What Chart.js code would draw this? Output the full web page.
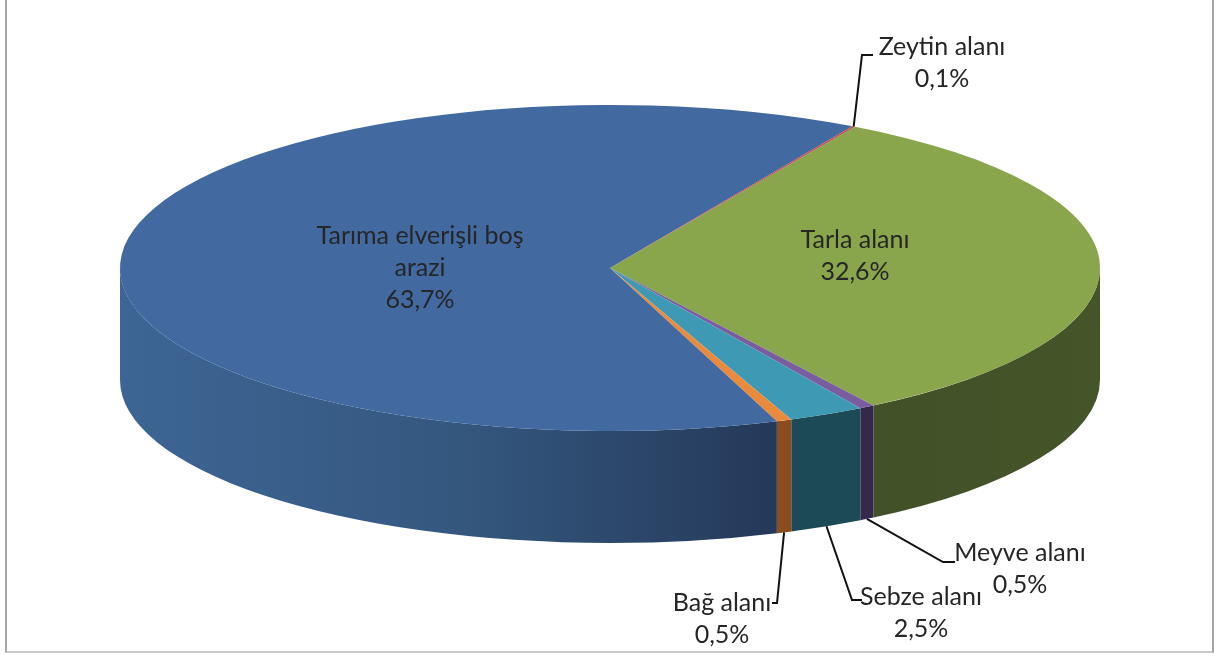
<!DOCTYPE html>
<html>
<head>
<meta charset="utf-8">
<script src="https://cdn.jsdelivr.net/npm/chart.js@4"></script>
<style>
  body { margin: 0; background: #fff; }
  #wrap { position: relative; width: 1215px; height: 656px; }
  #frame { position: absolute; left: 5px; top: 0; width: 1205px; height: 651px;
           border-left: 2px solid #a6a6a6; border-right: 2px solid #a6a6a6; border-bottom: 2px solid #c8c8c8; }
  canvas { position: absolute; left: 0; top: 0; }
</style>
</head>
<body>
<div id="wrap">
  <div id="frame"></div>
  <canvas id="pie" width="1215" height="656"></canvas>
</div>
<script>
const categories = ["Tarla alanı", "Meyve alanı", "Sebze alanı", "Bağ alanı", "Tarıma elverişli boş arazi", "Zeytin alanı"];
const shares = [32.6, 0.5, 2.5, 0.5, 63.7, 0.1];
const topColors = ["#8aa64c", "#7a5d9e", "#3e9ab4", "#ea8a3c", "#4269a0", "#c0504d"];
const sideColors = [["#36441d", "#45552a"], ["#35284b", "#35284b"], ["#1b4753", "#1d4b57"],
                    ["#8a4c1d", "#8a4c1d"], ["#3d6595", "#243858"], ["#6e2b29", "#6e2b29"]];

// ellipse geometry of the tilted pie
const CX = 610, CY = 268, RX = 490, RY = 163, DEPTH = 112;

// label layout: centre x, first line y, lines
const labelLayout = [
  { x: 855, y: 240, lines: ["Tarla alanı"] },
  { x: 1020, y: 553, lines: ["Meyve alanı"], rim: "bottom", elbow: [[943, 562], [955, 562]] },
  { x: 921, y: 597, lines: ["Sebze alanı"], rim: "bottom", elbow: [[852, 600], [862, 600]] },
  { x: 722, y: 603, lines: ["Bağ alanı"], rim: "bottom", elbow: [[777, 603], [772, 603]] },
  { x: 420, y: 236, lines: ["Tarıma elverişli boş", "arazi"] },
  { x: 942, y: 47, lines: ["Zeytin alanı"], rim: "top", elbow: [[862, 55], [873, 55]] }
];

const fmt = v => v.toFixed(1).replace(".", ",") + "%";

function ellipseAt(a, dy) {
  return [CX + RX * Math.cos(a), CY + dy + RY * Math.sin(a)];
}

const tiltPlugin = {
  id: "tilt",
  beforeDatasetsDraw(chart) {
    const ctx = chart.ctx;
    const arcs = chart.getDatasetMeta(0).data;
    // side walls, only the front half (0..PI) is visible
    arcs.forEach((arc, i) => {
      const TWO = Math.PI * 2;
      let s = arc.startAngle, e = arc.endAngle;
      for (let k = -1; k <= 1; k++) {
        const a1 = Math.max(s, k * TWO), a2 = Math.min(e, k * TWO + Math.PI);
        if (a2 <= a1) continue;
        const g = ctx.createLinearGradient(CX - RX, 0, CX + RX, 0);
        if (i === 4) {
          g.addColorStop(0, sideColors[i][0]);
          g.addColorStop(0.35, "#34577e");
          g.addColorStop(0.68, sideColors[i][1]);
          g.addColorStop(1, sideColors[i][1]);
        } else {
          g.addColorStop(0, sideColors[i][0]);
          g.addColorStop(1, sideColors[i][1]);
        }
        ctx.save();
        ctx.beginPath();
        ctx.ellipse(CX, CY, RX, RY, 0, a1, a2, false);
        ctx.ellipse(CX, CY + DEPTH, RX, RY, 0, a2, a1, true);
        ctx.closePath();
        ctx.fillStyle = g;
        ctx.fill();
        ctx.restore();
      }
    });
    const a0 = arcs[0];
    ctx.save();
    ctx.translate(CX, CY);
    ctx.scale(RX / a0.outerRadius, RY / a0.outerRadius);
    ctx.translate(-a0.x, -a0.y);
  },
  afterDatasetsDraw(chart) {
    const ctx = chart.ctx;
    ctx.restore();
    const arcs = chart.getDatasetMeta(0).data;
    ctx.save();
    ctx.fillStyle = "#262626";
    ctx.strokeStyle = "#111";
    ctx.lineWidth = 2;
    ctx.font = "25px Lato, 'Liberation Sans', sans-serif";
    ctx.textAlign = "center";
    ctx.textBaseline = "middle";
    arcs.forEach((arc, i) => {
      const lay = labelLayout[i];
      if (lay.rim) {
        const mid = (arc.startAngle + arc.endAngle) / 2;
        const p = ellipseAt(mid, lay.rim === "bottom" ? DEPTH : 0);
        ctx.beginPath();
        ctx.moveTo(p[0], p[1]);
        lay.elbow.forEach(q => ctx.lineTo(q[0], q[1]));
        ctx.stroke();
      }
      const lines = lay.lines.concat([fmt(shares[i])]);
      lines.forEach((t, j) => ctx.fillText(t, lay.x, lay.y + j * 32));
    });
    ctx.restore();
  }
};

new Chart(document.getElementById("pie"), {
  type: "pie",
  data: {
    labels: categories,
    datasets: [{
      data: shares,
      backgroundColor: topColors,
      borderWidth: 0,
      clip: false
    }]
  },
  options: {
    responsive: false,
    animation: false,
    events: [],
    rotation: 30,
    plugins: {
      legend: { display: false },
      tooltip: { enabled: false }
    }
  },
  plugins: [tiltPlugin]
});
</script>
</body>
</html>
